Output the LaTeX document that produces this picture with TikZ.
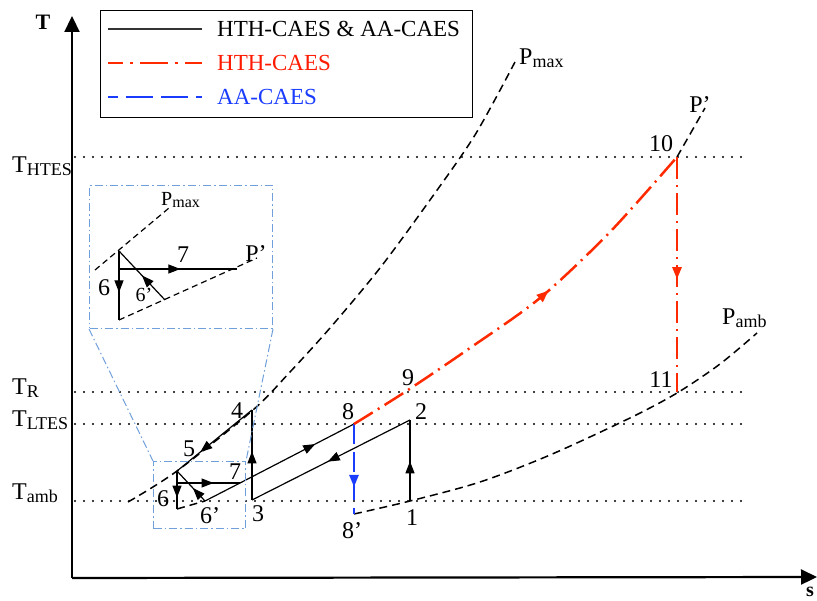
\documentclass[tikz,border=0pt]{standalone}
\usepackage{fontspec}
\setmainfont{Liberation Serif}
\usetikzlibrary{arrows.meta,decorations.markings}
\definecolor{hred}{HTML}{FF2A00}
\definecolor{lred}{HTML}{FF1A00}
\definecolor{ablue}{HTML}{1A3CFF}
\definecolor{zblue}{HTML}{6FA0DC}
\tikzset{
  cyc/.style={line width=1.2pt, black},
  iso/.style={line width=1.5pt, dash pattern=on 8pt off 5pt},
  tline/.style={line width=2.2pt, dash pattern=on 0pt off 9pt, line cap=round},
  redline/.style={hred, line width=2.5pt, dash pattern=on 22pt off 6pt on 2pt off 6pt},
  blueline/.style={ablue, line width=2.5pt, dash pattern=on 20pt off 8pt},
  zoombox/.style={zblue, line width=1pt, dash pattern=on 8pt off 3pt on 1.5pt off 3pt},
  axis/.style={line width=2.2pt, -{Triangle[length=16pt,width=15pt]}},
  midarrow/.style={postaction={decorate}, decoration={markings, mark=at position #1 with {\arrow{Triangle[length=12pt,width=9pt]}}}},
  lbl/.style={inner sep=0pt, font=\fontsize{24}{26}\selectfont},
  tlbl/.style={inner sep=0pt, anchor=base west, font=\fontsize{24}{26}\selectfont},
}
\newcommand{\subtx}[1]{\raisebox{-3pt}{\fontsize{18}{18}\selectfont #1}}
\begin{document}
\begin{tikzpicture}[x=1pt,y=-1pt]
\useasboundingbox (0,0) rectangle (817,601);

% axes
\coordinate (O) at (72,578);
\coordinate (Ytop) at (72,16);
\coordinate (Xend) at (817,577);
\draw[axis] (O) -- (Ytop);
\draw[axis] (O) -- (Xend);
\node[inner sep=0pt, font=\fontsize{22}{22}\selectfont\bfseries] (Tax) at (43,22) {T};
\node[inner sep=0pt, font=\fontsize{20}{20}\selectfont\bfseries] (Sax) at (810,592) {s};

% temperature levels
\coordinate (h1) at (75,157); \coordinate (h2) at (745,157);
\coordinate (r1) at (75,392); \coordinate (r2) at (745,392);
\coordinate (l1) at (75,424); \coordinate (l2) at (745,424);
\coordinate (a1) at (75,501); \coordinate (a2) at (745,501);
\draw[tline] (h1) -- (h2);
\draw[tline] (r1) -- (r2);
\draw[tline] (l1) -- (l2);
\draw[tline] (a1) -- (a2);
\node[tlbl] (THTES) at (12,173) {T\subtx{HTES}};
\node[tlbl] (TR) at (12,395) {T\subtx{R}};
\node[tlbl] (TLTES) at (12,427) {T\subtx{LTES}};
\node[tlbl] (Tamb) at (12,500) {T\subtx{amb}};

% legend
\node[draw, line width=0.9pt, minimum width=372pt, minimum height=107pt, anchor=north west, inner sep=0pt] (leg) at (100,10) {};
\coordinate (lg1a) at (108,29); \coordinate (lg1b) at (202,29);
\coordinate (lg2a) at (108,63); \coordinate (lg2b) at (202,63);
\coordinate (lg3a) at (108,97); \coordinate (lg3b) at (202,97);
\draw[line width=1.3pt, black!80] (lg1a) -- (lg1b);
\draw[hred, line width=2.5pt, dash pattern=on 28pt off 7pt on 3pt off 7pt, dash phase=13pt] (lg2a) -- (lg2b);
\draw[ablue, line width=2.5pt, dash pattern=on 27pt off 8pt, dash phase=17pt] (lg3a) -- (lg3b);
\node[inner sep=0pt, anchor=west, font=\fontsize{23}{26}\selectfont] (lt1) at (217,29) {HTH-CAES \& AA-CAES};
\node[inner sep=0pt, anchor=west, text=lred, font=\fontsize{23}{26}\selectfont] (lt2) at (217,63) {HTH-CAES};
\node[inner sep=0pt, anchor=west, text=ablue, font=\fontsize{23}{26}\selectfont] (lt3) at (217,97) {AA-CAES};

% state points
\coordinate (p1) at (410,501);
\coordinate (p2) at (410,420);
\coordinate (p3) at (252,500);
\coordinate (p4) at (252,410);
\coordinate (p5) at (177,471);
\coordinate (p6) at (177,509);
\coordinate (p6b) at (205,501);
\coordinate (p6h) at (177,483);
\coordinate (p7) at (240,483);
\coordinate (p8) at (354,424);
\coordinate (p8b) at (354,514);
\coordinate (p10) at (677,157);
\coordinate (p11) at (677,392);
\coordinate (pp) at (705,108);

% isobars
\draw[iso] plot[smooth] coordinates {(128,502) (177,471) (253,410) (290,372) (330,328) (380,268) (430,200) (475,135) (515,62)};
\draw[iso] (p6) -- (p6b);
\draw[iso] (p10) -- (pp);
\draw[iso] plot[smooth] coordinates {(354,514) (410,501) (480,482) (550,455) (630,418) (677,393) (720,364) (757,333)};
\node[lbl, anchor=west] (Pmaxl) at (519,58) {P\subtx{max}};
\node[lbl] (Ppl) at (700,105) {P’};
\node[lbl, anchor=west] (Pambl) at (722,318) {P\subtx{amb}};

% cycle
\draw[cyc, midarrow=0.49] (p1) -- (p2);
\draw[cyc, midarrow=0.52] (p2) -- (p3);
\draw[cyc, midarrow=0.54] (p3) -- (p4);
\draw[cyc, midarrow=0.69] (p4) -- (p5);
\draw[cyc, midarrow=0.7] (p5) -- (p6);
\draw[cyc, midarrow=0.43] (p6b) -- (p5);
\draw[cyc, midarrow=0.58] (p6h) -- (p7);
\draw[cyc] (p6b) -- (p7);
\draw[cyc, midarrow=0.66] (p7) -- (p8);
\draw[blueline, midarrow=0.7] (p8) -- (p8b);
\draw[redline, midarrow=0.56] plot[smooth] coordinates {(354,424) (405,392) (470,348) (540,298) (610,232) (677,157)};
\draw[redline, midarrow=0.52] (p10) -- (p11);

% point labels
\node[lbl] (n1) at (412,518) {1};
\node[lbl] (n2) at (421,412) {2};
\node[lbl] (n3) at (258,514) {3};
\node[lbl] (n4) at (237,411) {4};
\node[lbl] (n5) at (189,449) {5};
\node[lbl] (n6) at (163,499) {6};
\node[lbl] (n6b) at (210,516) {6’};
\node[lbl] (n7) at (235,472) {7};
\node[lbl] (n8) at (348,412) {8};
\node[lbl] (n8b) at (352,531) {8’};
\node[lbl] (n9) at (408,378) {9};
\node[lbl] (n10) at (661,144) {10};
\node[lbl] (n11) at (661,380) {11};

% zoom boxes
\node[zoombox, draw, anchor=north west, minimum width=183pt, minimum height=143pt, inner sep=0pt] (big) at (89,185) {};
\node[zoombox, draw, anchor=north west, minimum width=92pt, minimum height=67pt, inner sep=0pt] (small) at (153,461) {};
\draw[zoombox] (big.south west) -- (small.north west);
\draw[zoombox] (big.south east) -- (small.north east);

% inset content
\coordinate (i5) at (119,251);
\coordinate (i6) at (119,320);
\coordinate (i6h) at (119,269);
\coordinate (i7) at (237,269);
\coordinate (i6b) at (165,300);
\coordinate (iq1) at (95,270);
\coordinate (iq2) at (169,208);
\coordinate (ir2) at (257,258);
\draw[iso, line width=1.2pt, dash pattern=on 6pt off 4pt] (iq1) -- (iq2);
\draw[iso, line width=1.2pt, dash pattern=on 6pt off 4pt] (i6) -- (ir2);
\draw[cyc, midarrow=0.6] (i5) -- (i6);
\draw[cyc, midarrow=0.52] (i6h) -- (i7);
\draw[cyc, midarrow=0.5] (i6b) -- (i5);
\node[inner sep=0pt, anchor=west, font=\fontsize{20}{22}\selectfont] (iPmax) at (161,200) {P\raisebox{-2pt}{\fontsize{16}{16}\selectfont max}};
\node[lbl] (i7l) at (183,255) {7};
\node[lbl] (iPp) at (256,254) {P’};
\node[lbl] (i6l) at (104,288) {6};
\node[inner sep=0pt, font=\fontsize{20}{22}\selectfont] (i6bl) at (144,295) {6’};
\end{tikzpicture}
\end{document}
